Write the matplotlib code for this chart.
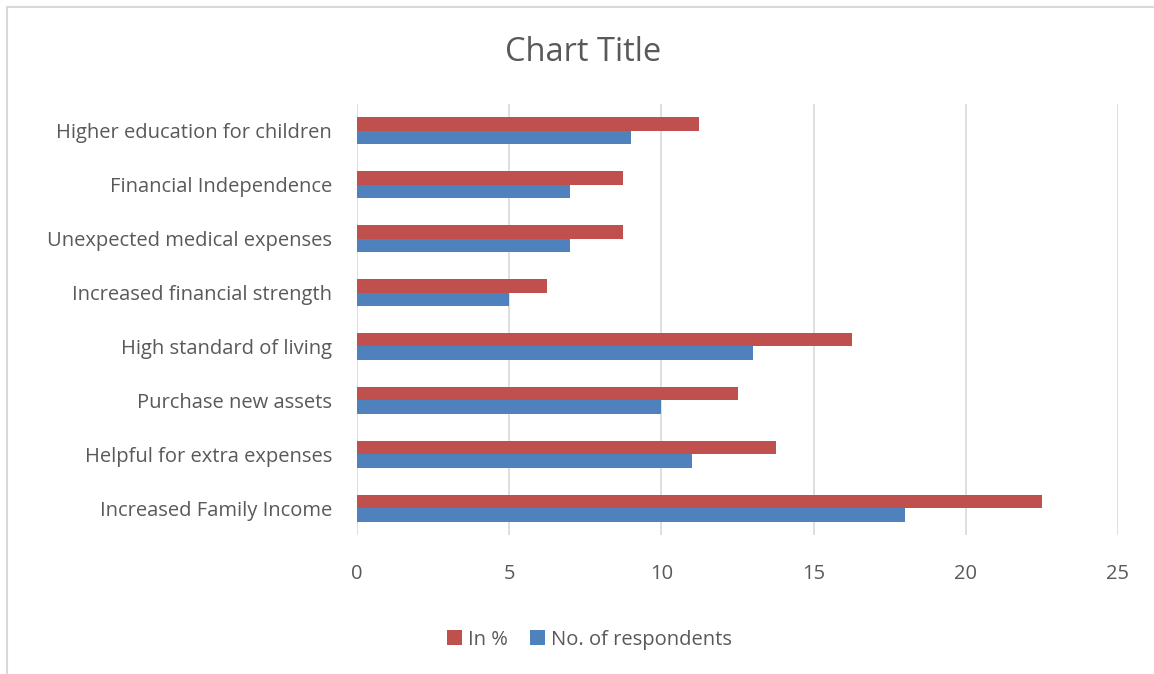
import numpy as np
from matplotlib import pyplot as plt
from matplotlib.lines import Line2D

categories = ["Increased Family Income", "Helpful for extra expenses", "Purchase new assets",
              "High standard of living", "Increased financial strength",
              "Unexpected medical expenses", "Financial Independence",
              "Higher education for children"]
respondents = [18, 11, 10, 13, 5, 7, 7, 9]
percent = [22.5, 13.75, 12.5, 16.25, 6.25, 8.75, 8.75, 11.25]
xticks = [0, 5, 10, 15, 20, 25]

plt.rcParams['font.family'] = ['Open Sans', 'DejaVu Sans']
text_c = "#595959"
red = "#C0504D"
blue = "#4F81BD"

fig = plt.figure(figsize=(11.54, 6.74), dpi=100)
ax = fig.add_axes([0.3094, 0.2062, 0.6594, 0.6395])

y = np.arange(len(categories))
h = 0.25
ax.barh(y - h/2, respondents, height=h, color=blue, label="No. of respondents", zorder=3)
ax.barh(y + h/2, percent, height=h, color=red, label="In %", zorder=3)

ax.set_xlim(0, 25)
ax.set_ylim(-0.5, len(categories) - 0.5)
ax.set_xticks(xticks)
ax.set_yticks(y)
ax.set_yticklabels(categories)
ax.grid(axis='x', color="#d9d9d9", linewidth=1.2, zorder=0)
for s in ax.spines.values():
    s.set_visible(False)
ax.tick_params(axis='x', length=0, pad=21, labelsize=14.5, labelcolor=text_c)
ax.tick_params(axis='y', length=0, pad=18, labelsize=14.5, labelcolor=text_c)

fig.text(0.505, 0.922, "Chart Title", ha='center', va='center', fontsize=23.5, color=text_c)

handles, labels = ax.get_legend_handles_labels()
fig.legend(handles[::-1], labels[::-1], loc='center', bbox_to_anchor=(0.511, 0.051), ncol=2,
           frameon=False, fontsize=14.5, labelcolor=text_c, handlelength=0.75, handleheight=0.75,
           handletextpad=0.3, columnspacing=1.1)

# outer chart border (top and left visible)
fig.add_artist(Line2D([7/1154, 1], [1 - 7/674, 1 - 7/674], color="#d9d9d9", linewidth=1.5))
fig.add_artist(Line2D([7/1154, 7/1154], [0, 1 - 7/674], color="#d9d9d9", linewidth=1.5))

fig.savefig("out.png", dpi=100)
